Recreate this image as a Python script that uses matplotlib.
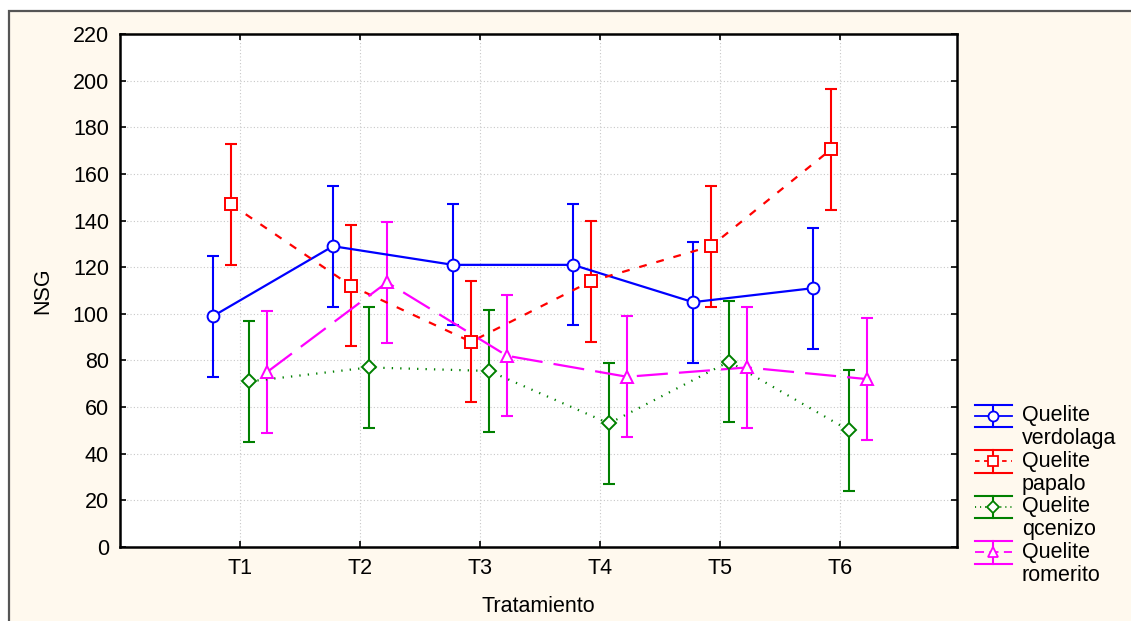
import matplotlib
matplotlib.use("Agg")
import matplotlib.pyplot as plt
import numpy as np
from matplotlib.lines import Line2D
from matplotlib.patches import Rectangle
from matplotlib.legend_handler import HandlerBase

plt.rcParams['font.family'] = ['Liberation Sans', 'DejaVu Sans']

categories = ["T1", "T2", "T3", "T4", "T5", "T6"]
series_names = ["Quelite\nverdolaga", "Quelite\npapalo", "Quelite\nqcenizo", "Quelite\nromerito"]
verdolaga = [99, 129, 121, 121, 105, 111]
papalo = [147, 112, 88, 114, 129, 170.5]
qcenizo = [71, 77, 75.5, 53, 79.5, 50]
romerito = [75, 113.5, 82, 73, 77, 72]
err_verdolaga = [26, 26, 26, 26, 26, 26]
err_papalo = [26, 26, 26, 26, 26, 26]
err_qcenizo = [26, 26, 26, 26, 26, 26]
err_romerito = [26, 26, 26, 26, 26, 26]

values = [verdolaga, papalo, qcenizo, romerito]
errors = [err_verdolaga, err_papalo, err_qcenizo, err_romerito]
colors = ["#0000FF", "#FF0000", "#008000", "#FF00FF"]
markers = ["o", "s", "D", "^"]
msizes = [8.5, 8.5, 7, 9]
linestyles = ["-", (0, (3.5, 4.5)), (0, (0.6, 3.2)), (0, (14, 5))]
offsets = [-0.225, -0.075, 0.075, 0.225]

FS = 15.5
W, H = 1131, 621
fig = plt.figure(figsize=(W / 100, H / 100), dpi=100, facecolor="white")
cream = "#FFF9EE"
fig.patches.append(Rectangle((9 / W, -0.05), 1.2, (H - 11) / H + 0.05, transform=fig.transFigure,
                             facecolor=cream, edgecolor="#555555", lw=1.6, zorder=-10))

ax = fig.add_axes([120 / W, (H - 547) / H, (957 - 120) / W, (547 - 34) / H])
ax.set_facecolor("white")

x = np.arange(1, len(categories) + 1)
for vals, errs, c, m, ms, ls, off in zip(values, errors, colors, markers, msizes, linestyles, offsets):
    xs = x + off
    ax.errorbar(xs, vals, yerr=errs, fmt="none", ecolor=c, elinewidth=1.5, capsize=4.2, capthick=1.5, zorder=3)
    ax.plot(xs, vals, color=c, linestyle=ls, linewidth=1.6, zorder=4)
    ax.plot(xs, vals, linestyle="none", marker=m, markersize=ms, markerfacecolor="white",
            markeredgecolor=c, markeredgewidth=1.4, zorder=5)

ax.set_xlim(0, 6.975)
ax.set_ylim(0, 220)
ax.set_yticks(np.arange(0, 221, 20))
ax.set_xticks(x)
ax.set_xticklabels(categories)
ax.grid(True, color="#C8C8C8", linestyle=(0, (1, 2)), linewidth=0.8)
ax.set_axisbelow(True)
ax.tick_params(direction="in", length=4, width=1.2, top=True, right=True, labelsize=FS, colors="black")
ax.tick_params(axis="x", pad=8)
ax.tick_params(axis="y", pad=8)
for s in ax.spines.values():
    s.set_linewidth(1.8)
    s.set_color("black")
ax.set_xlabel("Tratamiento", fontsize=FS, labelpad=12)
ax.set_ylabel("NSG", fontsize=FS, labelpad=14)

PITCH_PT = 23.5 * 72 / 100


class ErrHandler(HandlerBase):
    def __init__(self, color, ls, marker, ms):
        super().__init__()
        self.color, self.ls, self.marker, self.ms = color, ls, marker, ms

    def create_artists(self, legend, orig_handle, xdescent, ydescent, width, height, fontsize, trans):
        x0 = -xdescent
        x1 = x0 + width
        xc = (x0 + x1) / 2
        yc = -ydescent + height / 2 + 0.5 * PITCH_PT
        hh = 0.52 * fontsize
        arts = [
            Line2D([x0, x1], [yc + hh, yc + hh], color=self.color, lw=1.5),
            Line2D([x0, x1], [yc - hh, yc - hh], color=self.color, lw=1.5),
            Line2D([x0, x1], [yc, yc], color=self.color, lw=1.3, linestyle=self.ls),
            Line2D([xc, xc], [yc - hh, yc + hh], color=self.color, lw=1.5),
            Line2D([xc], [yc], marker=self.marker, markersize=self.ms, markerfacecolor="white",
                   markeredgecolor=self.color, markeredgewidth=1.3, linestyle="none"),
        ]
        for a in arts:
            a.set_transform(trans)
        return arts


handles = []
hmap = {}
legend_ls = ["-", (0, (2.5, 2.5)), (0, (0.6, 2.2)), (0, (5, 3))]
for name, c, ls, m, ms in zip(series_names, colors, legend_ls, markers, msizes):
    h = Line2D([], [], color=c)
    handles.append(h)
    hmap[h] = ErrHandler(c, ls, m, ms * 0.85)

leg = ax.legend(handles, series_names, handler_map=hmap, loc="upper left",
                bbox_to_anchor=(975 / W, (H - 405) / H), bbox_transform=fig.transFigure,
                frameon=False, fontsize=FS, handlelength=37 * 72 / 100 / FS, handletextpad=0.45,
                labelspacing=0.06, borderpad=0, borderaxespad=0)
for t in leg.get_texts():
    t.set_linespacing(1.14)

fig.savefig("out.png", dpi=100, facecolor=fig.get_facecolor())
